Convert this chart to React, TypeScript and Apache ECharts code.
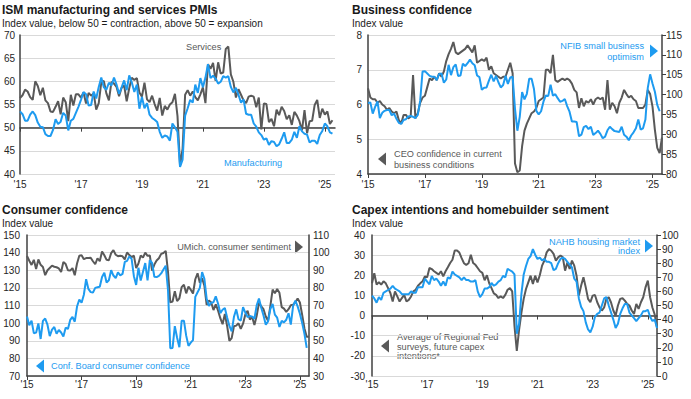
import React, { useEffect, useRef } from "react";
import * as echarts from "echarts";

// x positions are month indexes: 0 = Jan 2015
const tickLabels = ["'15", "'17", "'19", "'21", "'23", "'25"];
const tickMonths = [0, 24, 48, 72, 96, 120];

const ismServices = [
  56.4, 57.0, 58.2, 57.8, 56.6, 56.0, 60.0, 59.0, 57.0, 58.6, 55.9, 55.3,
  53.5, 53.4, 54.5, 55.7, 52.9, 56.5, 55.5, 51.4, 57.1, 54.8, 57.2, 57.2,
  56.5, 57.6, 55.2, 57.5, 56.9, 57.4, 53.9, 55.3, 59.8, 60.1, 57.4, 55.9,
  59.9, 59.5, 58.8, 56.8, 58.6, 59.1, 55.7, 58.5, 60.8, 60.3, 60.7, 57.6,
  56.7, 59.7, 56.1, 55.5, 56.9, 55.1, 53.7, 56.4, 52.6, 54.7, 53.9, 55.0,
  55.5, 57.3, 52.5, 41.8, 45.4, 57.1, 58.1, 56.9, 57.8, 56.6, 55.9, 57.2,
  58.7, 55.3, 63.7, 62.7, 64.0, 60.1, 64.1, 61.7, 61.9, 67.0, 67.5, 61.5,
  59.9, 56.5, 58.3, 57.1, 55.9, 55.3, 56.7, 56.9, 56.7, 54.4, 56.5, 49.6,
  55.2, 55.1, 51.2, 51.9, 50.3, 53.9, 52.7, 54.5, 53.6, 51.8, 52.7, 50.6,
  53.4, 52.6, 51.4, 49.4, 53.8, 48.8, 51.4, 51.5, 54.9, 56.0, 52.1, 54.1,
  52.8, 53.5, 50.8, 51.6,
];

const ismManufacturing = [
  53.5, 52.9, 51.5, 51.5, 52.8, 53.5, 52.7, 51.1, 50.2, 50.1, 48.6, 48.2,
  48.2, 49.5, 51.8, 50.8, 51.3, 53.2, 52.6, 49.4, 51.5, 51.9, 53.2, 54.5,
  56.0, 57.7, 57.2, 54.8, 54.9, 57.8, 56.3, 58.8, 60.8, 58.7, 58.2, 59.7,
  59.1, 60.8, 59.3, 57.3, 58.7, 60.2, 58.1, 61.3, 59.8, 57.7, 59.3, 54.1,
  56.6, 54.2, 55.3, 52.8, 52.1, 51.7, 51.2, 49.1, 47.8, 48.3, 48.1, 47.2,
  50.9, 50.1, 49.1, 41.5, 43.1, 52.6, 54.2, 56.0, 55.4, 59.3, 57.5, 60.7,
  58.7, 60.8, 63.7, 60.7, 61.2, 60.6, 59.5, 59.9, 61.1, 60.8, 61.1, 58.8,
  57.6, 58.6, 57.1, 55.4, 56.1, 53.0, 52.8, 52.8, 50.9, 50.2, 49.0, 48.4,
  47.4, 47.7, 46.3, 47.1, 46.9, 46.0, 46.4, 47.6, 49.0, 46.7, 46.7, 47.4,
  49.1, 47.8, 50.3, 49.2, 48.7, 48.5, 46.8, 47.2, 47.2, 46.5, 48.4, 49.3,
  50.9, 50.3, 49.0, 48.7,
];

const ceoConfidence = [
  6.47, 6.2, 6.15, 6.15, 6.05, 6.1, 6.0, 5.95, 5.85, 5.9, 5.8, 5.75,
  5.8, 5.55, 5.45, 5.7, 5.7, 5.6, 5.65, 6.85, 5.6, 5.75, 6.05, 6.2,
  6.25, 6.5, 6.75, 6.7, 6.8, 6.7, 6.9, 6.8, 6.95, 7.25, 7.45, 7.6,
  7.8, 7.5, 7.45, 7.5, 7.55, 7.6, 7.7, 7.6, 7.5, 7.7, 7.2, 7.25,
  7.3, 7.25, 7.35, 7.0, 7.1, 6.9, 6.85, 6.8, 6.75, 6.8, 6.8, 7.0,
  7.2, 6.9, 4.3, 4.05, 4.1, 4.8, 5.25, 5.45, 5.6, 5.75, 5.8, 5.9,
  6.1, 6.15, 6.2, 7.0, 7.0, 6.9, 7.43, 6.7, 6.65, 6.7, 6.75, 6.7,
  6.75, 6.7, 6.6, 6.42, 6.35, 5.9, 6.18, 5.95, 6.1, 6.05, 6.15, 6.0,
  6.15, 6.2, 6.15, 6.2, 5.85, 6.7, 5.85, 6.05, 5.95, 5.75, 6.05, 6.2,
  6.42, 6.3, 6.2, 6.25, 6.15, 6.1, 5.9, 5.9, 5.9, 6.0, 6.42, 6.3,
  5.94, 5.27, 4.75, 4.6, 5.05,
];

const nfibOptimism = [
  97.9, 98.0, 95.2, 96.9, 98.3, 94.1, 95.4, 95.9, 96.1, 96.1, 94.8, 95.2,
  93.9, 92.9, 92.6, 93.6, 93.8, 94.5, 94.6, 94.4, 94.1, 94.9, 98.4, 105.8,
  105.9, 105.3, 104.7, 104.5, 104.5, 103.6, 105.2, 105.3, 103.0, 103.8, 107.5, 104.9,
  106.9, 107.6, 104.7, 104.8, 107.8, 107.2, 107.9, 108.8, 107.9, 107.4, 104.8, 104.4,
  101.2, 101.7, 101.8, 103.5, 105.0, 103.3, 104.7, 103.1, 101.8, 102.4, 104.7, 102.7,
  104.3, 104.5, 96.4, 90.9, 94.4, 100.6, 98.8, 100.2, 104.0, 104.0, 101.4, 95.9,
  95.0, 95.8, 98.2, 99.8, 99.6, 102.5, 99.7, 100.1, 99.1, 98.2, 98.4, 98.9,
  97.1, 95.7, 93.2, 93.2, 93.1, 89.5, 89.9, 91.8, 92.1, 91.3, 91.9, 89.8,
  90.3, 90.9, 90.1, 89.0, 89.4, 91.0, 91.9, 91.3, 90.8, 90.7, 90.6, 91.9,
  89.9, 89.4, 88.5, 89.7, 90.5, 91.5, 93.7, 91.2, 91.5, 93.7, 101.7, 105.1,
  102.8, 100.7, 97.4, 95.8,
];

const confBoard = [
  103.8, 98.8, 101.4, 94.3, 94.6, 99.8, 91.0, 101.3, 102.6, 99.1, 92.6, 96.3,
  97.8, 94.0, 96.1, 94.7, 92.4, 97.4, 96.7, 101.8, 103.5, 100.8, 109.4, 113.3,
  111.6, 116.1, 124.9, 119.4, 117.6, 117.3, 120.0, 120.4, 120.6, 126.2, 128.6, 123.1,
  124.3, 130.0, 127.0, 125.6, 128.8, 127.1, 127.9, 134.7, 135.3, 137.9, 136.4, 126.6,
  121.7, 131.4, 124.2, 129.2, 134.1, 124.3, 135.7, 134.2, 126.3, 126.1, 126.8, 128.2,
  130.4, 132.6, 118.8, 85.7, 85.9, 98.3, 91.7, 86.3, 101.3, 101.4, 92.9, 87.1,
  88.9, 90.4, 114.9, 117.5, 120.0, 128.9, 125.1, 113.8, 109.8, 111.6, 111.9, 115.2,
  111.1, 105.7, 107.6, 108.6, 103.2, 98.4, 95.3, 103.6, 107.8, 102.2, 101.4, 109.0,
  106.0, 103.4, 104.0, 103.7, 102.5, 110.1, 114.0, 108.7, 104.3, 99.1, 101.0, 108.0,
  110.9, 104.8, 103.1, 97.8, 101.3, 100.4, 101.9, 105.6, 99.2, 109.6, 112.8, 109.5,
  105.3, 100.1, 93.9, 86.0,
];

const umichSentiment = [
  98.1, 95.4, 93.0, 95.9, 90.7, 96.1, 93.1, 91.9, 87.2, 90.0, 91.3, 92.6,
  92.0, 91.7, 91.0, 89.0, 94.7, 93.5, 90.0, 89.8, 91.2, 87.2, 93.8, 98.2,
  98.5, 96.3, 96.9, 97.0, 97.1, 95.1, 93.4, 96.8, 95.1, 100.7, 98.5, 95.9,
  95.7, 99.7, 101.4, 98.8, 98.0, 98.2, 97.9, 96.2, 100.1, 98.6, 97.5, 98.3,
  91.2, 93.8, 98.4, 97.2, 100.0, 98.2, 98.4, 89.8, 93.2, 95.5, 96.8, 99.3,
  99.8, 101.0, 89.1, 71.8, 72.3, 78.1, 72.5, 74.1, 80.4, 81.8, 76.9, 80.7,
  79.0, 76.8, 84.9, 88.3, 82.9, 85.5, 81.2, 70.3, 72.8, 71.7, 67.4, 70.6,
  67.2, 62.8, 59.4, 65.2, 58.4, 50.0, 51.5, 58.2, 58.6, 59.9, 56.8, 59.7,
  64.9, 67.0, 62.0, 63.5, 59.0, 64.2, 71.5, 69.5, 67.9, 63.8, 61.3, 69.7,
  79.0, 76.9, 79.4, 77.2, 69.1, 68.2, 66.4, 67.9, 70.1, 70.5, 71.8, 74.0,
  71.7, 64.7, 57.0, 52.2, 52.2,
];

const capexIntentions = [
  16, 21, 15.4, 16.5, 15.4, 17, 16, 13.6, 11.2, 7, 12, 9.5,
  7, 8.7, 10.3, 7, 7.8, 9.5, 12, 12.8, 14.8, 16, 17, 19.5,
  19, 23.6, 23.1, 22, 21.2, 20.4, 22, 19.5, 22, 24, 26.1, 27.7,
  32.3, 32.3, 31.3, 28.5, 26, 25.2, 26, 30.2, 26.1, 25.2, 23.6, 22,
  21.2, 17.5, 20, 16, 13.6, 11, 10.3, 8.7, 9.5, 8.7, 10.3, 12.8,
  13.6, 12, -5.3, -17.5, -7, 1.4, 8.3, 13.2, 16.5, 19.8, 15.7, 19.8,
  16.5, 20, 24.8, 27.3, 31.4, 33, 32.2, 30.6, 27.3, 28.9, 29.8, 29,
  22.3, 26.4, 23.1, 27.3, 24.8, 19.8, 9.9, 14.9, 19, 14, 8.3, 6.6,
  9.9, 10.2, 6.6, 4.1, 2.5, 4, 8.3, 9.1, 6.5, 2.5, 0, 5,
  8.3, 8.6, 7.4, 5.8, 5, 2.5, 0.8, 5.8, 3.3, 6.6, 9.1, 14,
  17.4, 9.1, 4, 0.5, -6,
];

const nahbIndex = [
  57, 55, 52, 56, 54, 59, 60, 61, 62, 64, 62, 61,
  60, 58, 58, 58, 58, 60, 59, 59, 63, 63, 63, 69,
  67, 65, 71, 68, 69, 67, 64, 67, 64, 70, 69, 74,
  72, 71, 70, 68, 70, 68, 68, 67, 67, 68, 60, 56,
  58, 62, 62, 63, 66, 64, 65, 67, 68, 71, 70, 76,
  75, 74, 72, 30, 37, 58, 72, 78, 83, 85, 90, 86,
  83, 84, 82, 83, 81, 81, 80, 75, 76, 80, 83, 84,
  83, 81, 79, 77, 69, 67, 55, 49, 46, 38, 33, 31,
  35, 42, 44, 45, 50, 55, 56, 50, 45, 40, 34, 37,
  44, 48, 51, 51, 45, 43, 41, 39, 41, 43, 46, 46,
  47, 42, 39, 40, 34,
];

const GRAY = "#595959";
const BLUE = "#1e9bf0";
const AXIS = "#404040";
const GRID = "#d9d9d9";
const FONT = "'Liberation Sans', Arial, sans-serif";
const X_MAX = 124;
const TITLE_SIZE = 12;
const NOTE_SIZE = 9.2;

const pairs = (arr: number[]) => arr.map((v, i) => [i, v]);

function xAxis(gridIndex: number, opts: any) {
  return {
    type: "value",
    gridIndex,
    position: "bottom",
    min: 0,
    max: X_MAX,
    interval: 24,
    splitLine: { show: false },
    axisLine: { show: opts.line, onZero: false, lineStyle: { color: AXIS, width: 1.5 } },
    axisTick: { show: opts.line, length: 4, customValues: tickMonths, lineStyle: { color: AXIS, width: 1 } },
    axisLabel: {
      show: opts.labels,
      margin: opts.margin ?? 5,
      fontSize: 10,
      color: "#262626",
      fontFamily: FONT,
      customValues: tickMonths,
      formatter: (v: number) => tickLabels[tickMonths.indexOf(v)] ?? "",
    },
    offset: opts.offset ?? 0,
  };
}

function yAxis(gridIndex: number, position: string, min: number, max: number, interval: number, opts: any) {
  return {
    type: "value",
    gridIndex,
    position,
    min,
    max,
    interval,
    axisLine: { show: true, onZero: false, lineStyle: { color: AXIS, width: 1.5 } },
    axisTick: { show: !!opts.ticks, length: 4, lineStyle: { color: AXIS } },
    splitLine: { show: !!opts.split, lineStyle: { color: GRID, width: 1.2 } },
    axisLabel: { margin: opts.margin ?? 5, fontSize: 10, color: "#262626", fontFamily: FONT },
  };
}

function line(name: string, data: number[], color: string, xi: number, yi: number) {
  return {
    name,
    type: "line",
    xAxisIndex: xi,
    yAxisIndex: yi,
    data: pairs(data),
    showSymbol: false,
    symbol: "none",
    lineStyle: { color, width: 2 },
    itemStyle: { color },
    silent: true,
  };
}

function txt(x: number, y: number, text: string, fill: string, size: number, opts: any = {}) {
  return {
    type: "text",
    x,
    y,
    silent: true,
    style: {
      text,
      fill,
      fontSize: size,
      fontFamily: FONT,
      fontWeight: opts.bold ? "bold" : "normal",
      lineHeight: opts.lineHeight ?? size + 2,
      align: opts.align ?? "left",
      verticalAlign: "middle",
      textAlign: opts.align ?? "left",
      textVerticalAlign: "middle",
    },
  };
}

function triRight(x: number, y: number, fill: string) {
  return { type: "polygon", silent: true, shape: { points: [[x - 4, y - 6.5], [x + 4, y], [x - 4, y + 6.5]] }, style: { fill } };
}
function triLeft(x: number, y: number, fill: string) {
  return { type: "polygon", silent: true, shape: { points: [[x + 4, y - 6.5], [x - 4, y], [x + 4, y + 6.5]] }, style: { fill } };
}

export default function App() {
  const ref = useRef<HTMLDivElement>(null);
  useEffect(() => {
    document.body.style.margin = "0";
    if (!ref.current) return;
    const chart = echarts.init(ref.current, null, { renderer: "svg" });
    const option: any = {
      animation: false,
      backgroundColor: "#ffffff",
      textStyle: { fontFamily: FONT },
      grid: [
        { left: 20, top: 35, width: 315, height: 139 },
        { left: 368, top: 35, width: 294, height: 139 },
        { left: 27, top: 235, width: 282, height: 141 },
        { left: 372, top: 235, width: 285, height: 141 },
      ],
      xAxis: [
        xAxis(0, { line: false, labels: true, margin: 5 }),
        xAxis(0, { line: true, labels: false, offset: -46.33 }),
        xAxis(1, { line: true, labels: true, margin: 5 }),
        xAxis(2, { line: true, labels: true, margin: 3 }),
        xAxis(3, { line: false, labels: true, margin: 3 }),
        xAxis(3, { line: true, labels: false, offset: -60.43 }),
      ],
      yAxis: [
        yAxis(0, "left", 40, 70, 5, { split: true, margin: 5 }),
        yAxis(1, "left", 4, 8, 1, { split: true, margin: 6 }),
        yAxis(1, "right", 80, 115, 5, { ticks: true, margin: 4 }),
        yAxis(2, "left", 70, 150, 10, { split: true, margin: 7 }),
        yAxis(2, "right", 30, 110, 10, { margin: 4 }),
        yAxis(3, "left", -30, 40, 10, { split: true, margin: 7 }),
        yAxis(3, "right", 0, 100, 10, { ticks: true, margin: 5 }),
      ],
      series: [
        line("Services", ismServices, GRAY, 0, 0),
        line("Manufacturing", ismManufacturing, BLUE, 0, 0),
        line("CEO confidence in current business conditions", ceoConfidence, GRAY, 2, 1),
        line("NFIB small business optimism", nfibOptimism, BLUE, 2, 2),
        line("UMich. consumer sentiment", umichSentiment, GRAY, 3, 4),
        line("Conf. Board consumer confidence", confBoard, BLUE, 3, 3),
        line("Average of Regional Fed surveys, future capex intentions*", capexIntentions, GRAY, 4, 5),
        line("NAHB housing market index", nahbIndex, BLUE, 4, 6),
      ],
      graphic: [
        txt(2, 10, "ISM manufacturing and services PMIs", "#1a1a1a", TITLE_SIZE, { bold: true }),
        txt(2, 23, "Index value, below 50 = contraction, above 50 = expansion", "#1a1a1a", 10),
        txt(352, 10, "Business confidence", "#1a1a1a", TITLE_SIZE, { bold: true }),
        txt(352, 23, "Index value", "#1a1a1a", 10),
        txt(2, 210, "Consumer confidence", "#1a1a1a", TITLE_SIZE, { bold: true }),
        txt(2, 223, "Index value", "#1a1a1a", 10),
        txt(352, 210, "Capex intentions and homebuilder sentiment", "#1a1a1a", TITLE_SIZE, { bold: true }),
        txt(352, 223, "Index value", "#1a1a1a", 10),

        txt(186, 47, "Services", GRAY, NOTE_SIZE),
        txt(224, 163, "Manufacturing", BLUE, NOTE_SIZE),

        txt(644, 51.5, "NFIB small business\noptimism", BLUE, NOTE_SIZE, { align: "right", lineHeight: 10.5 }),
        triRight(654, 51, BLUE),
        txt(394, 159.5, "CEO confidence in current\nbusiness conditions", GRAY, NOTE_SIZE, { lineHeight: 10.5 }),
        triLeft(382, 159, GRAY),

        txt(291, 247, "UMich. consumer sentiment", GRAY, NOTE_SIZE, { align: "right" }),
        triRight(299, 247, GRAY),
        txt(51, 366, "Conf. Board consumer confidence", BLUE, NOTE_SIZE),
        triLeft(40, 366, BLUE),

        txt(640, 246.5, "NAHB housing market\nindex", BLUE, NOTE_SIZE, { align: "right", lineHeight: 9.5 }),
        triRight(649, 246, BLUE),
        txt(397, 346.5, "Average of Regional Fed\nsurveys, future capex\nintentions*", GRAY, NOTE_SIZE, { lineHeight: 9.5 }),
        triLeft(385, 346, GRAY),
      ],
    };
    chart.setOption(option);
    return () => chart.dispose();
  }, []);
  return <div ref={ref} style={{ position: "absolute", left: 0, top: 0, width: 691, height: 399 }} />;
}
